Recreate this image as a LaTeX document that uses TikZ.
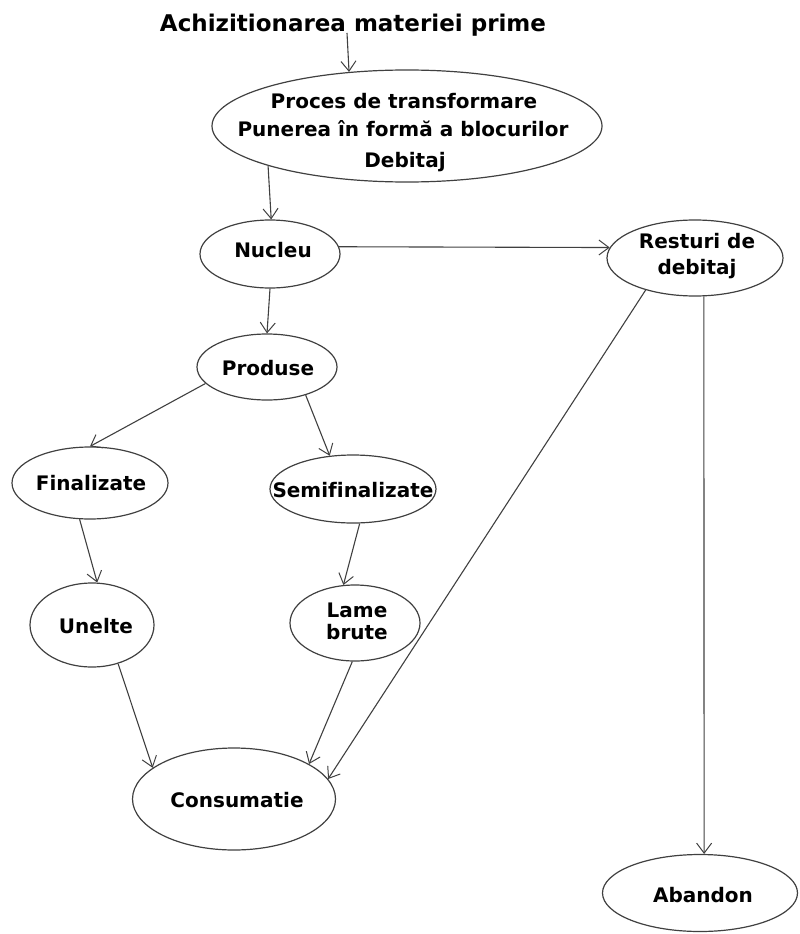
\documentclass[tikz,border=0pt]{standalone}
\usepackage{fontspec}
\setmainfont{DejaVu Sans}[Ligatures=NoCommon]
\usetikzlibrary{shapes.geometric,arrows.meta}
\tikzset{
  oval/.style={ellipse,draw=black!75,line width=1.2pt,inner sep=0pt},
  txt/.style={anchor=base,inner sep=0pt,font=\bfseries\fontsize{20}{24}\selectfont},
  conn/.style={draw=black!75,line width=1.1pt,-{Straight Barb[length=10pt,width=15pt,line width=1pt]}},
}
\begin{document}
\begin{tikzpicture}[x=1pt,y=-1pt]
\useasboundingbox (0,0) rectangle (800,934);
\node[txt,font=\bfseries\fontsize{23}{28}\selectfont] (title) at (353,32) {Achizitionarea materiei prime};

\node[oval,minimum width=390pt,minimum height=112pt] (big) at (407,126) {};
\node[txt] (big1) at (404,108) {Proces de transformare};
\node[txt] (big2) at (403,136) {Punerea în formă a blocurilor};
\node[txt] (big3) at (405,167) {Debitaj};

\node[oval,minimum width=140pt,minimum height=68pt] (nuc) at (270,254) {};
\node[txt] (nucT) at (273,257) {Nucleu};

\node[oval,minimum width=176pt,minimum height=76pt] (rest) at (695,258) {};
\node[txt] (rest1) at (697,248) {Resturi de};
\node[txt] (rest2) at (697,274) {debitaj};

\node[oval,minimum width=140pt,minimum height=66pt] (prod) at (267,367) {};
\node[txt] (prodT) at (268,375) {Produse};

\node[oval,minimum width=156pt,minimum height=72pt] (fin) at (90,483) {};
\node[txt] (finT) at (91,490) {Finalizate};

\node[oval,minimum width=166pt,minimum height=68pt] (semi) at (353,489) {};
\node[txt] (semiT) at (353,497) {Semifinalizate};

\node[oval,minimum width=124pt,minimum height=84pt] (unel) at (92,625) {};
\node[txt] (unelT) at (96,633) {Unelte};

\node[oval,minimum width=130pt,minimum height=76pt] (lame) at (355,623) {};
\node[txt] (lame1) at (357,617) {Lame};
\node[txt] (lame2) at (357,639) {brute};

\node[oval,minimum width=203pt,minimum height=102pt] (cons) at (234,799) {};
\node[txt] (consT) at (237,807) {Consumatie};

\node[oval,minimum width=195pt,minimum height=77pt] (aband) at (700,893) {};
\node[txt] (abandT) at (703,902) {Abandon};

\draw[conn] ([xshift=-6pt,yshift=4pt]title.south) -- (big.137);
\draw[conn] (big.196.6) -- (nuc.88);
\draw[conn] (nuc.6) -- (rest.173);
\draw[conn] (nuc.south) -- (prod.north);
\draw[conn] (prod.195) -- (fin.north);
\draw[conn] (prod.324) -- (semi.125);
\draw[conn] (fin.254.4) -- (unel.83);
\draw[conn] (semi.281.6) -- (lame.107.8);
\draw[conn] (unel.304.3) -- (cons.159.7);
\draw[conn] (lame.266) -- (cons.25.4);
\draw[conn] (rest.213.5) -- (cons.12);
\draw[conn] (rest.283.4) -- (aband.84);
\end{tikzpicture}
\end{document}
